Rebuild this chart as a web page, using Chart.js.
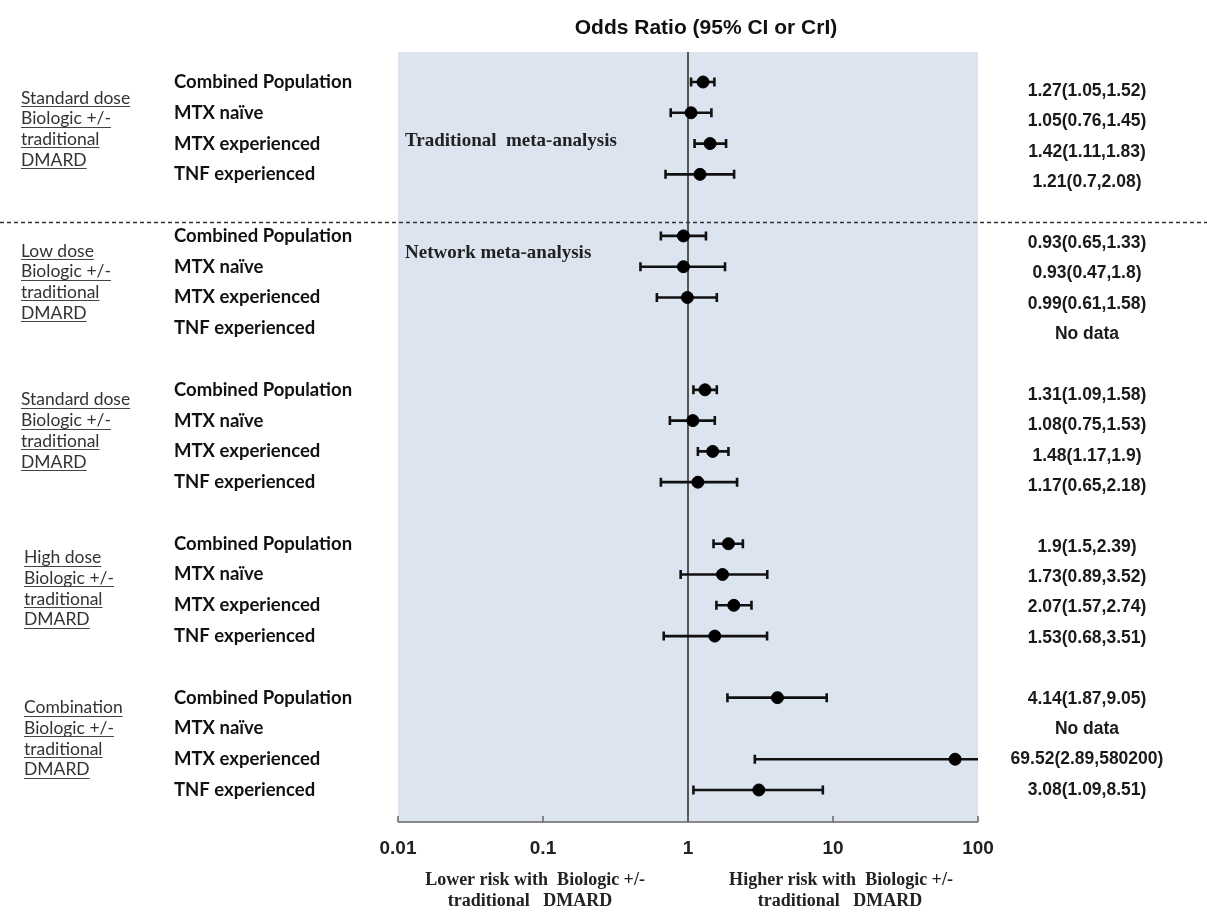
<!DOCTYPE html>
<html>
<head>
<meta charset="utf-8">
<script src="https://cdn.jsdelivr.net/npm/chart.js@4"></script>
<style>
  body { margin: 0; background: #fff; }
  canvas { display: block; }
</style>
</head>
<body>
<canvas id="forestChart" width="1207" height="916"></canvas>
<script>
var groupNames = ["Standard dose", "Low dose", "Standard dose", "High dose", "Combination"];
var groupSuffix = ["Biologic +/-", "traditional", "DMARD"];
var subgroups = ["Combined Population", "MTX naïve", "MTX experienced", "TNF experienced"];

var oddsRatio = [1.27, 1.05, 1.42, 1.21, 0.93, 0.93, 0.99, null, 1.31, 1.08, 1.48, 1.17, 1.9, 1.73, 2.07, 1.53, 4.14, null, 69.52, 3.08];
var lowerCI = [1.05, 0.76, 1.11, 0.7, 0.65, 0.47, 0.61, null, 1.09, 0.75, 1.17, 0.65, 1.5, 0.89, 1.57, 0.68, 1.87, null, 2.89, 1.09];
var upperCI = [1.52, 1.45, 1.83, 2.08, 1.33, 1.8, 1.58, null, 1.58, 1.53, 1.9, 2.18, 2.39, 3.52, 2.74, 3.51, 9.05, null, 580200, 8.51];

var xTicks = [0.01, 0.1, 1, 10, 100];

// row position of each entry: 4 rows per group, one blank row between groups
function rowOf(i) {
    return Math.floor(i / 4) * 5 + (i % 4);
}

var points = [];
for (var i = 0; i < oddsRatio.length; i++) {
    if (oddsRatio[i] !== null) {
        points.push({ x: oddsRatio[i], y: rowOf(i), lo: lowerCI[i], hi: upperCI[i] });
    }
}

var labelFont = "Lato, 'Open Sans', sans-serif";
var serifFont = "'Liberation Serif', 'DejaVu Serif', serif";
var arialFont = "'Liberation Sans', Arial, sans-serif";

var forestPlugin = {
    id: "forest",
    beforeDraw: function (chart) {
        var ctx = chart.ctx;
        var a = chart.chartArea;
        ctx.save();
        ctx.fillStyle = "#dce4f0";
        ctx.fillRect(a.left, a.top, a.right - a.left, a.bottom - a.top);
        ctx.restore();
    },
    beforeDatasetsDraw: function (chart) {
        var ctx = chart.ctx;
        var a = chart.chartArea;
        var xs = chart.scales.x;
        var ys = chart.scales.y;
        ctx.save();

        // reference line at OR = 1
        ctx.strokeStyle = "#555";
        ctx.lineWidth = 2;
        ctx.beginPath();
        ctx.moveTo(xs.getPixelForValue(1), a.top);
        ctx.lineTo(xs.getPixelForValue(1), a.bottom);
        ctx.stroke();

        // axis line and small tick marks
        ctx.strokeStyle = "#666";
        ctx.lineWidth = 1.5;
        ctx.beginPath();
        ctx.moveTo(a.left, a.bottom);
        ctx.lineTo(a.right, a.bottom);
        xTicks.forEach(function (v) {
            var px = xs.getPixelForValue(v);
            ctx.moveTo(px, a.bottom);
            ctx.lineTo(px, a.bottom - 6);
        });
        ctx.stroke();

        // confidence intervals
        ctx.beginPath();
        ctx.rect(a.left, a.top, a.right - a.left, a.bottom - a.top + 1);
        ctx.clip();
        ctx.strokeStyle = "#111";
        ctx.lineWidth = 2.6;
        points.forEach(function (p) {
            var py = ys.getPixelForValue(p.y);
            var x1 = xs.getPixelForValue(p.lo);
            var x2 = xs.getPixelForValue(Math.min(p.hi, xs.max));
            ctx.beginPath();
            ctx.moveTo(x1, py);
            ctx.lineTo(x2, py);
            ctx.moveTo(x1, py - 4.5);
            ctx.lineTo(x1, py + 4.5);
            if (p.hi <= xs.max) {
                ctx.moveTo(x2, py - 4.5);
                ctx.lineTo(x2, py + 4.5);
            }
            ctx.stroke();
        });
        ctx.restore();
    },
    afterDraw: function (chart) {
        var ctx = chart.ctx;
        var a = chart.chartArea;
        var ys = chart.scales.y;
        ctx.save();

        // title
        ctx.fillStyle = "#111";
        ctx.font = "bold 21px " + arialFont;
        ctx.textAlign = "center";
        ctx.textBaseline = "middle";
        ctx.fillText("Odds Ratio (95% CI or CrI)", 706, 28);

        // dashed separator between traditional and network meta-analysis
        ctx.strokeStyle = "#333";
        ctx.lineWidth = 1.3;
        ctx.setLineDash([4, 3]);
        ctx.beginPath();
        var dy = Math.round(ys.getPixelForValue(4.55)) + 0.5;
        ctx.moveTo(0, dy);
        ctx.lineTo(1207, dy);
        ctx.stroke();
        ctx.setLineDash([]);

        // annotations inside the plot
        ctx.textAlign = "left";
        ctx.fillStyle = "#222";
        ctx.font = "bold 19px " + serifFont;
        ctx.fillText("Traditional  meta-analysis", a.left + 7, ys.getPixelForValue(1.93));
        ctx.fillText("Network meta-analysis", a.left + 7, ys.getPixelForValue(5.55));

        // group labels (underlined)
        var groupOffset = [16, 15, 10, 14, 10];
        ctx.font = "17.5px " + labelFont;
        ctx.fillStyle = "#333";
        ctx.strokeStyle = "#444";
        ctx.lineWidth = 1.2;
        groupNames.forEach(function (name, g) {
            var top = ys.getPixelForValue(g * 5) + groupOffset[g];
            var lines = [name].concat(groupSuffix);
            lines.forEach(function (t, k) {
                var ly = top + k * 20.7;
                var lx = g === 3 || g === 4 ? 24 : 21;
                ctx.fillText(t, lx, ly);
                var w = ctx.measureText(t).width;
                ctx.beginPath();
                ctx.moveTo(lx, Math.round(ly + 8) + 0.5);
                ctx.lineTo(lx + w, Math.round(ly + 8) + 0.5);
                ctx.stroke();
            });
        });

        // subgroup labels
        ctx.font = "bold 18.5px " + labelFont;
        ctx.fillStyle = "#111";
        for (var i = 0; i < oddsRatio.length; i++) {
            ctx.fillText(subgroups[i % 4], 174, ys.getPixelForValue(rowOf(i)));
        }

        // estimates on the right
        ctx.font = "bold 17.5px " + arialFont;
        ctx.textAlign = "center";
        ctx.fillStyle = "#1a1a1a";
        for (var j = 0; j < oddsRatio.length; j++) {
            var r = rowOf(j);
            var txt = oddsRatio[j] === null ? "No data" :
                oddsRatio[j] + "(" + lowerCI[j] + "," + upperCI[j] + ")";
            var shift = 9 * (1 - r / 23);
            ctx.fillText(txt, 1087, ys.getPixelForValue(r) + shift);
        }

        // captions under the axis
        ctx.font = "bold 18px " + serifFont;
        ctx.fillStyle = "#222";
        ctx.fillText("Lower risk with  Biologic +/-", 535, 880);
        ctx.fillText("traditional   DMARD", 530, 901);
        ctx.fillText("Higher risk with  Biologic +/-", 841, 880);
        ctx.fillText("traditional   DMARD", 840, 901);
        ctx.restore();
    }
};

var forestCtx = document.getElementById("forestChart");

var forestChart = new Chart(forestCtx, {
    type: "scatter",
    data: {
        datasets: [
            {
                data: points,
                backgroundColor: "#000",
                borderColor: "#000",
                pointRadius: 6,
                pointHoverRadius: 6
            }
        ]
    },
    options: {
        responsive: false,
        animation: false,
        layout: {
            padding: { left: 398, right: 229, top: 52, bottom: 0 }
        },
        plugins: {
            legend: { display: false },
            tooltip: { enabled: false }
        },
        scales: {
            x: {
                type: "logarithmic",
                min: 0.01,
                max: 100,
                afterBuildTicks: function (axis) {
                    axis.ticks = xTicks.map(function (v) { return { value: v }; });
                },
                afterFit: function (axis) {
                    axis.height = 94;
                },
                grid: { display: false, drawTicks: false },
                border: { display: false },
                ticks: {
                    autoSkip: false,
                    maxRotation: 0,
                    padding: 15,
                    color: "#222",
                    font: { family: arialFont, size: 19, weight: "bold" },
                    callback: function (v) { return String(v); }
                }
            },
            y: {
                type: "linear",
                reverse: true,
                min: -0.975,
                max: 24.04,
                display: false
            }
        }
    },
    plugins: [forestPlugin]
});
</script>
</body>
</html>
